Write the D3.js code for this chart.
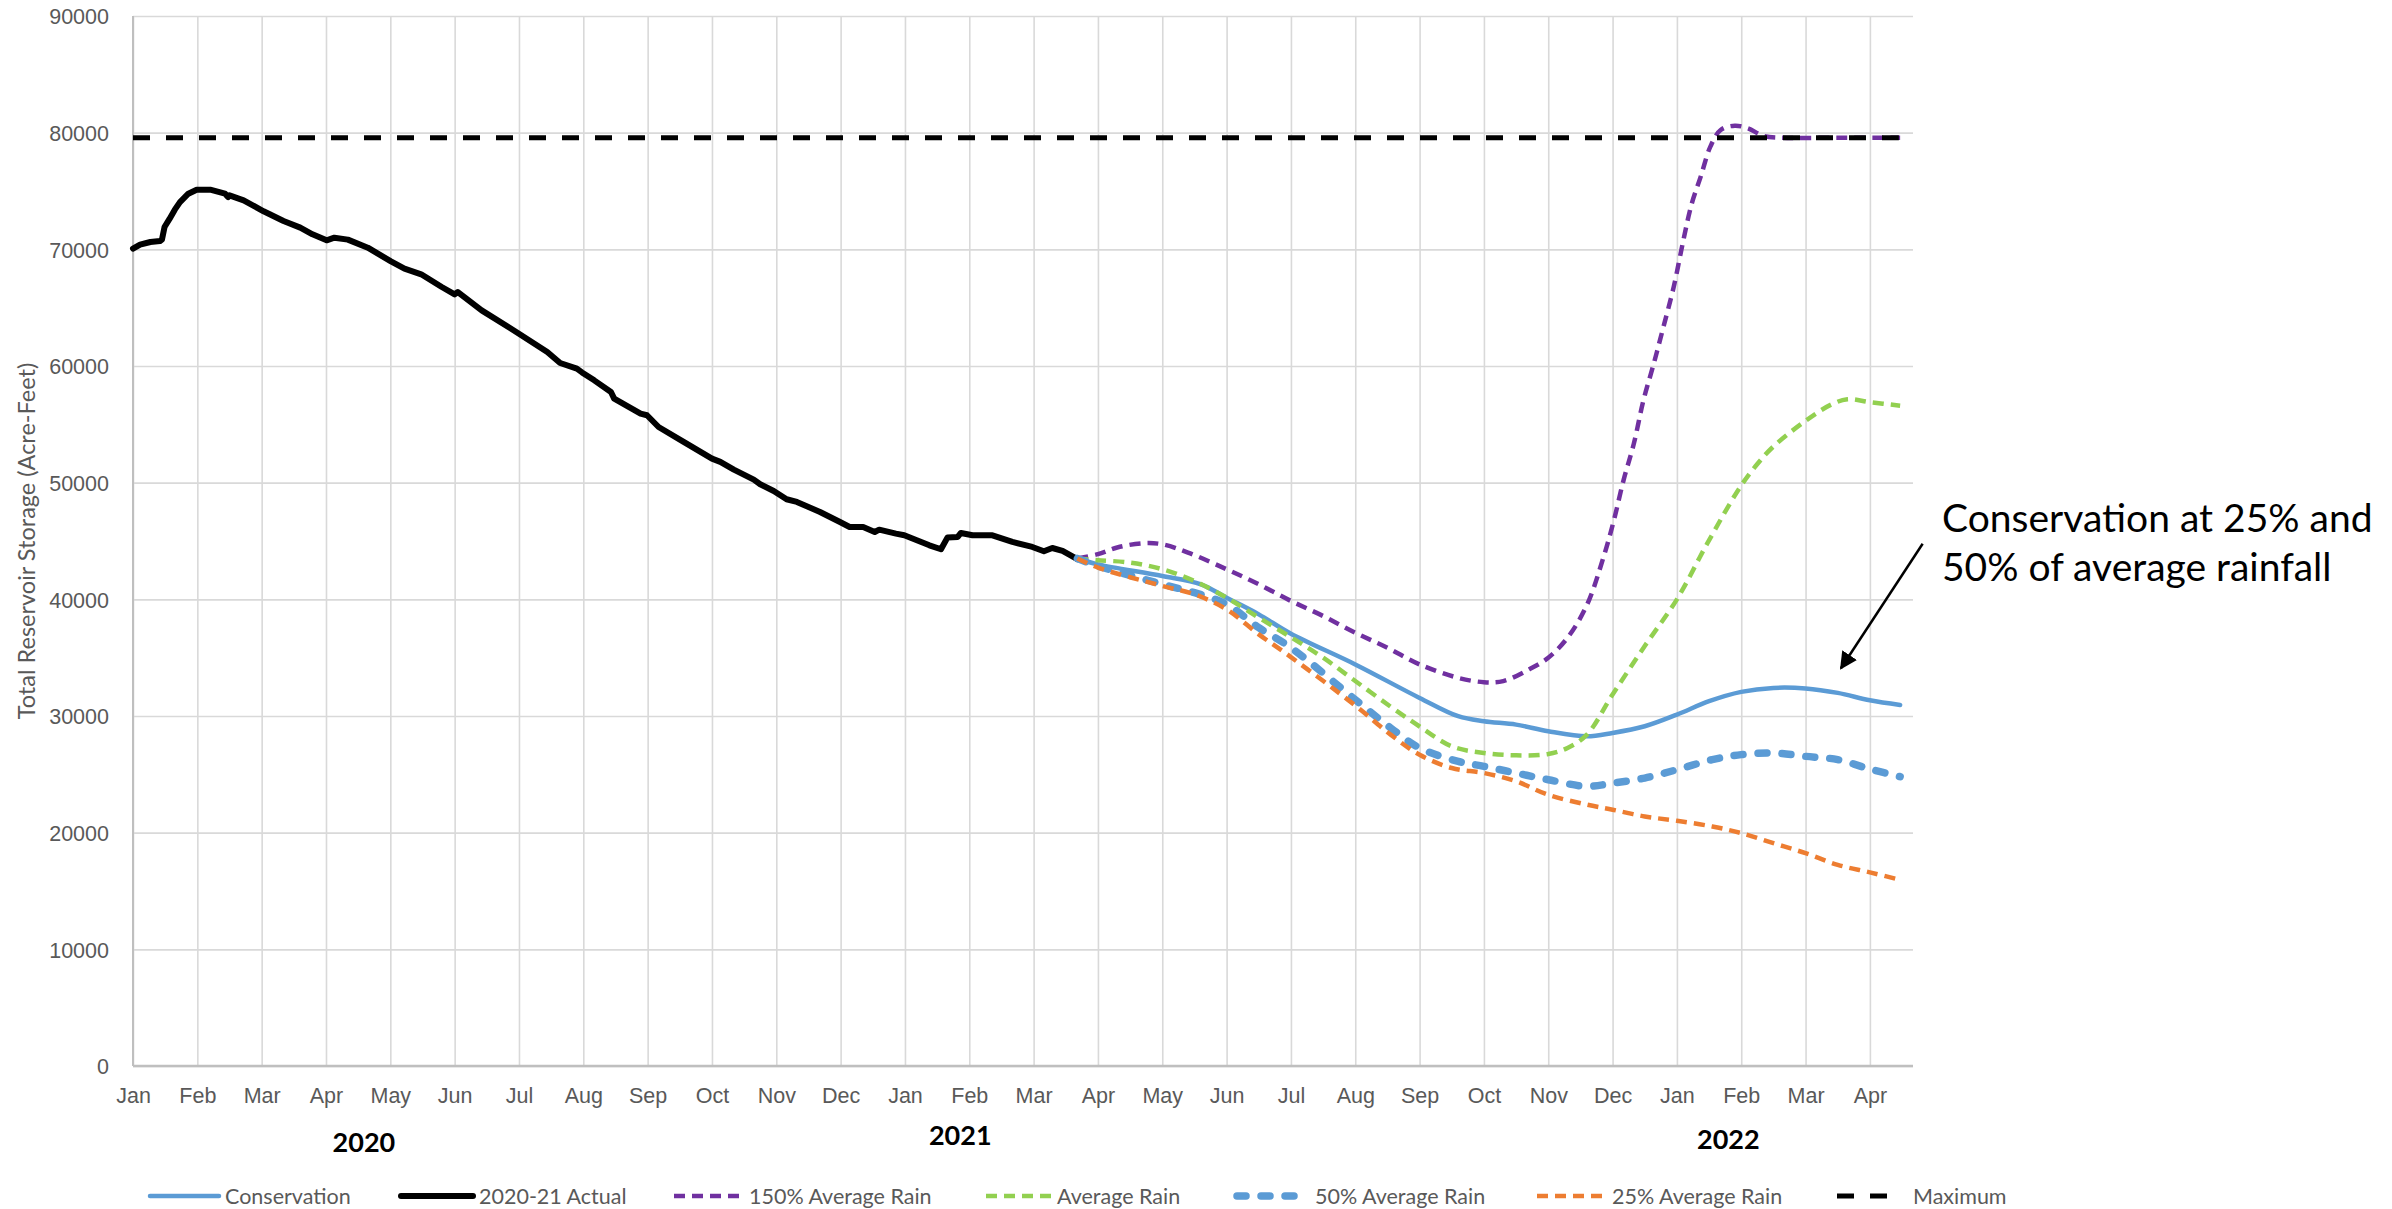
<!DOCTYPE html>
<html>
<head>
<meta charset="utf-8">
<script src="https://cdn.jsdelivr.net/npm/d3@7"></script>
<style>
  html, body { margin: 0; padding: 0; background: #fff; }
  svg { display: block; font-family: Lato, "Open Sans", sans-serif; }
</style>
</head>
<body>
<svg id="chart" width="2392" height="1209"></svg>
<script>
// ---------------- DATA ----------------
const monthLabels = ["Jan","Feb","Mar","Apr","May","Jun","Jul","Aug","Sep","Oct","Nov","Dec",
                     "Jan","Feb","Mar","Apr","May","Jun","Jul","Aug","Sep","Oct","Nov","Dec",
                     "Jan","Feb","Mar","Apr"];
const yTicks = [0,10000,20000,30000,40000,50000,60000,70000,80000,90000];
const yearLabels = ["2020","2021","2022"];
const yearPositions = [3.59, 12.86, 24.8];   // month index where the year label sits

const seriesNames = ["Conservation","2020-21 Actual","150% Average Rain","Average Rain",
                     "50% Average Rain","25% Average Rain","Maximum"];

// [month index from Jan 2020, acre-feet]
const actual = [[0,70060],[0.11,70400],[0.27,70630],[0.42,70710],[0.45,70830],[0.49,71910],[0.57,72630],
  [0.65,73400],[0.73,74050],[0.86,74770],[0.99,75110],[1.2,75110],[1.43,74770],[1.48,74480],[1.5,74630],
  [1.72,74200],[2.03,73260],[2.34,72430],[2.6,71860],[2.79,71290],[3.01,70770],[3.13,71000],[3.34,70830],
  [3.65,70140],[4.01,68970],[4.22,68340],[4.48,67860],[4.8,66770],[5.0,66140],[5.05,66340],[5.42,64770],
  [6.0,62770],[6.44,61200],[6.64,60260],[6.9,59770],[6.98,59450],[7.17,58770],[7.43,57770],[7.48,57200],
  [7.89,55920],[7.99,55780],[8.17,54770],[8.56,53490],[9.0,52060],[9.13,51780],[9.34,51120],[9.65,50260],
  [9.75,49860],[9.96,49290],[10.16,48580],[10.32,48350],[10.68,47490],[10.99,46630],[11.14,46200],
  [11.35,46200],[11.53,45770],[11.6,45970],[11.86,45630],[11.99,45490],[12.38,44630],[12.56,44290],
  [12.66,45290],[12.82,45350],[12.87,45690],[13.05,45490],[13.36,45490],[13.67,44920],[13.98,44490],
  [14.16,44120],[14.29,44400],[14.45,44150],[14.68,43450]];

const conservation = [[14.68,43500],[15,43000],[16,42000],[16.6,41290],[17,40140],[17.5,38710],[18,37050],
  [19,34420],[20,31550],[20.6,29980],[21,29550],[21.5,29260],[22,28690],[22.6,28260],[23,28550],[23.5,29120],
  [24,30120],[24.5,31270],[25,32070],[25.5,32410],[26,32360],[26.5,31980],[27,31350],[27.47,30950]];

const rain150 = [[14.68,43500],[15,43870],[15.3,44440],[15.7,44810],[16,44720],[16.4,44010],[17,42580],
  [17.5,41290],[18,39860],[18.5,38570],[19,37140],[19.5,35850],[20,34420],[20.6,33270],[21,32900],
  [21.3,32990],[21.7,33990],[22,34990],[22.3,36710],[22.6,39500],[22.86,43630],[23.02,46770],[23.17,50200],
  [23.33,53340],[23.48,57060],[23.64,60200],[23.79,63340],[23.95,66770],[24.1,70770],[24.23,73900],
  [24.37,76230],[24.52,78800],[24.68,80230],[24.9,80600],[25.1,80370],[25.35,79720],[25.6,79570],
  [26.5,79570],[27.47,79570]];

const rainAvg = [[14.68,43500],[15,43350],[15.5,43150],[16,42580],[16.5,41570],[17,40140],[17.5,38430],
  [18,36750],[18.5,35000],[19,33000],[19.55,30800],[20,29100],[20.5,27400],[21,26830],[21.5,26630],
  [22,26740],[22.3,27260],[22.6,28400],[23,31840],[23.5,36000],[24,40000],[24.47,44770],[24.98,49600],
  [25.25,51600],[25.5,53100],[26,55300],[26.4,56700],[26.65,57150],[27,56900],[27.47,56600]];

const rain50 = [[14.68,43500],[15,42860],[16,41290],[16.5,40570],[17,39570],[17.5,37570],[18,35850],
  [19,31400],[19.55,28980],[20,27260],[20.6,26110],[21,25680],[21.5,25110],[22,24540],[22.6,23970],
  [23,24250],[23.5,24680],[24,25400],[24.55,26260],[25,26690],[25.5,26830],[26,26540],[26.5,26260],
  [27,25450],[27.47,24800]];

const rain25 = [[14.68,43500],[15,42720],[16,41150],[16.5,40430],[17,39140],[17.5,37000],[18,35050],
  [19,30900],[19.55,28400],[20,26680],[20.5,25540],[21,25110],[21.5,24400],[22,23250],[22.6,22400],
  [23,21970],[23.5,21390],[24,21020],[24.55,20530],[25,19960],[25.5,19100],[26,18240],[26.5,17240],
  [27,16600],[27.47,15950]];

const maximum = [[0,79570],[27.45,79570]];

const annotationLines = ["Conservation at 25% and","50% of average rainfall"];
const arrowFrom = [27.82, 44760];
const arrowTo = [26.55, 34090];

// ---------------- LAYOUT ----------------
const svg = d3.select("#chart");
const L = 133, R = 1913, T = 16, B = 1066;
const x = d3.scaleLinear().domain([0, 27.67]).range([L, R]);
const y = d3.scaleLinear().domain([0, 90000]).range([B, T]);
const grey = "#595959";

// gridlines via axes
const gy = svg.append("g").attr("transform", `translate(${L},0)`)
  .call(d3.axisLeft(y).tickValues(yTicks).tickSize(-(R - L)).tickPadding(24).tickFormat(d3.format("d")));
gy.select(".domain").remove();
gy.selectAll(".tick line").attr("stroke", "#d9d9d9").attr("stroke-width", 1.6);
gy.selectAll(".tick text").attr("font-size", 21.5).attr("fill", grey).attr("dy", "0.36em");

const gx = svg.append("g").attr("transform", `translate(0,${B})`)
  .call(d3.axisBottom(x).tickValues(d3.range(monthLabels.length)).tickSize(-(B - T)).tickPadding(22)
    .tickFormat(i => monthLabels[i]));
gx.select(".domain").remove();
gx.selectAll(".tick line").attr("stroke", "#d9d9d9").attr("stroke-width", 1.6);
gx.selectAll(".tick text").attr("font-size", 21.5).attr("fill", grey);

// axis lines
svg.append("line").attr("x1", L).attr("x2", L).attr("y1", T).attr("y2", B)
  .attr("stroke", "#bfbfbf").attr("stroke-width", 2);
svg.append("line").attr("x1", L).attr("x2", R).attr("y1", y(0)).attr("y2", y(0))
  .attr("stroke", "#bfbfbf").attr("stroke-width", 2.5);

// year labels
const yearY = [1152, 1145, 1149];
yearLabels.forEach((t, i) => {
  svg.append("text").attr("x", x(yearPositions[i])).attr("y", yearY[i])
    .attr("text-anchor", "middle").attr("font-size", 27).attr("font-weight", "bold")
    .attr("fill", "#000").text(t);
});

// y title
svg.append("text").attr("transform", "translate(26,541) rotate(-90)")
  .attr("text-anchor", "middle").attr("dominant-baseline", "central")
  .attr("font-size", 23.5).attr("fill", grey).text("Total Reservoir Storage (Acre-Feet)");

// ---------------- SERIES ----------------
const styles = [
  { data: conservation, color: "#5b9bd5", width: 4.5, dash: null, cap: "round", curve: d3.curveCatmullRom },
  { data: actual, color: "#000000", width: 6, dash: null, cap: "round", curve: d3.curveLinear },
  { data: rain150, color: "#7030a0", width: 4.5, dash: "11,7", cap: "butt", curve: d3.curveCatmullRom },
  { data: rainAvg, color: "#92d050", width: 4.5, dash: "11,7", cap: "butt", curve: d3.curveCatmullRom },
  { data: rain50, color: "#5b9bd5", width: 7.5, dash: "9,15", cap: "round", curve: d3.curveCatmullRom },
  { data: rain25, color: "#ed7d31", width: 4.5, dash: "11,7", cap: "butt", curve: d3.curveCatmullRom },
  { data: maximum, color: "#000000", width: 5, dash: "17,16", cap: "butt", curve: d3.curveLinear }
];

styles.forEach(s => {
  const line = d3.line().x(d => x(d[0])).y(d => y(d[1])).curve(s.curve);
  svg.append("path").datum(s.data).attr("d", line)
    .attr("fill", "none").attr("stroke", s.color).attr("stroke-width", s.width)
    .attr("stroke-linejoin", "round").attr("stroke-linecap", s.cap)
    .attr("stroke-dasharray", s.dash);
});

// ---------------- LEGEND ----------------
const legendLine = [[150,219],[401,473],[674,744],[986,1053],[1237,1304],[1537,1609],[1837,1891]];
const legendText = [225, 479, 749, 1057, 1315, 1612, 1913];
const legY = 1196;
seriesNames.forEach((n, i) => {
  const s = styles[i];
  svg.append("line").attr("x1", legendLine[i][0]).attr("x2", legendLine[i][1])
    .attr("y1", legY).attr("y2", legY)
    .attr("stroke", s.color).attr("stroke-width", s.width)
    .attr("stroke-linecap", s.cap).attr("stroke-dasharray", s.dash);
  svg.append("text").attr("x", legendText[i]).attr("y", legY).attr("dy", "0.36em")
    .attr("font-size", 21.5).attr("fill", grey).text(n);
});

// ---------------- ANNOTATION ----------------
svg.append("defs").append("marker").attr("id", "arrow")
  .attr("viewBox", "0 0 10 10").attr("refX", 9).attr("refY", 5)
  .attr("markerWidth", 7).attr("markerHeight", 7).attr("orient", "auto")
  .attr("markerUnits", "strokeWidth")
  .append("path").attr("d", "M0,0 L10,5 L0,10 Z").attr("fill", "#000");

svg.append("line")
  .attr("x1", x(arrowFrom[0])).attr("y1", y(arrowFrom[1]))
  .attr("x2", x(arrowTo[0])).attr("y2", y(arrowTo[1]))
  .attr("stroke", "#000").attr("stroke-width", 2.5).attr("marker-end", "url(#arrow)");

annotationLines.forEach((t, i) => {
  svg.append("text").attr("x", 1942).attr("y", 532 + i * 49)
    .attr("font-size", 39).attr("fill", "#000").text(t);
});
</script>
</body>
</html>
